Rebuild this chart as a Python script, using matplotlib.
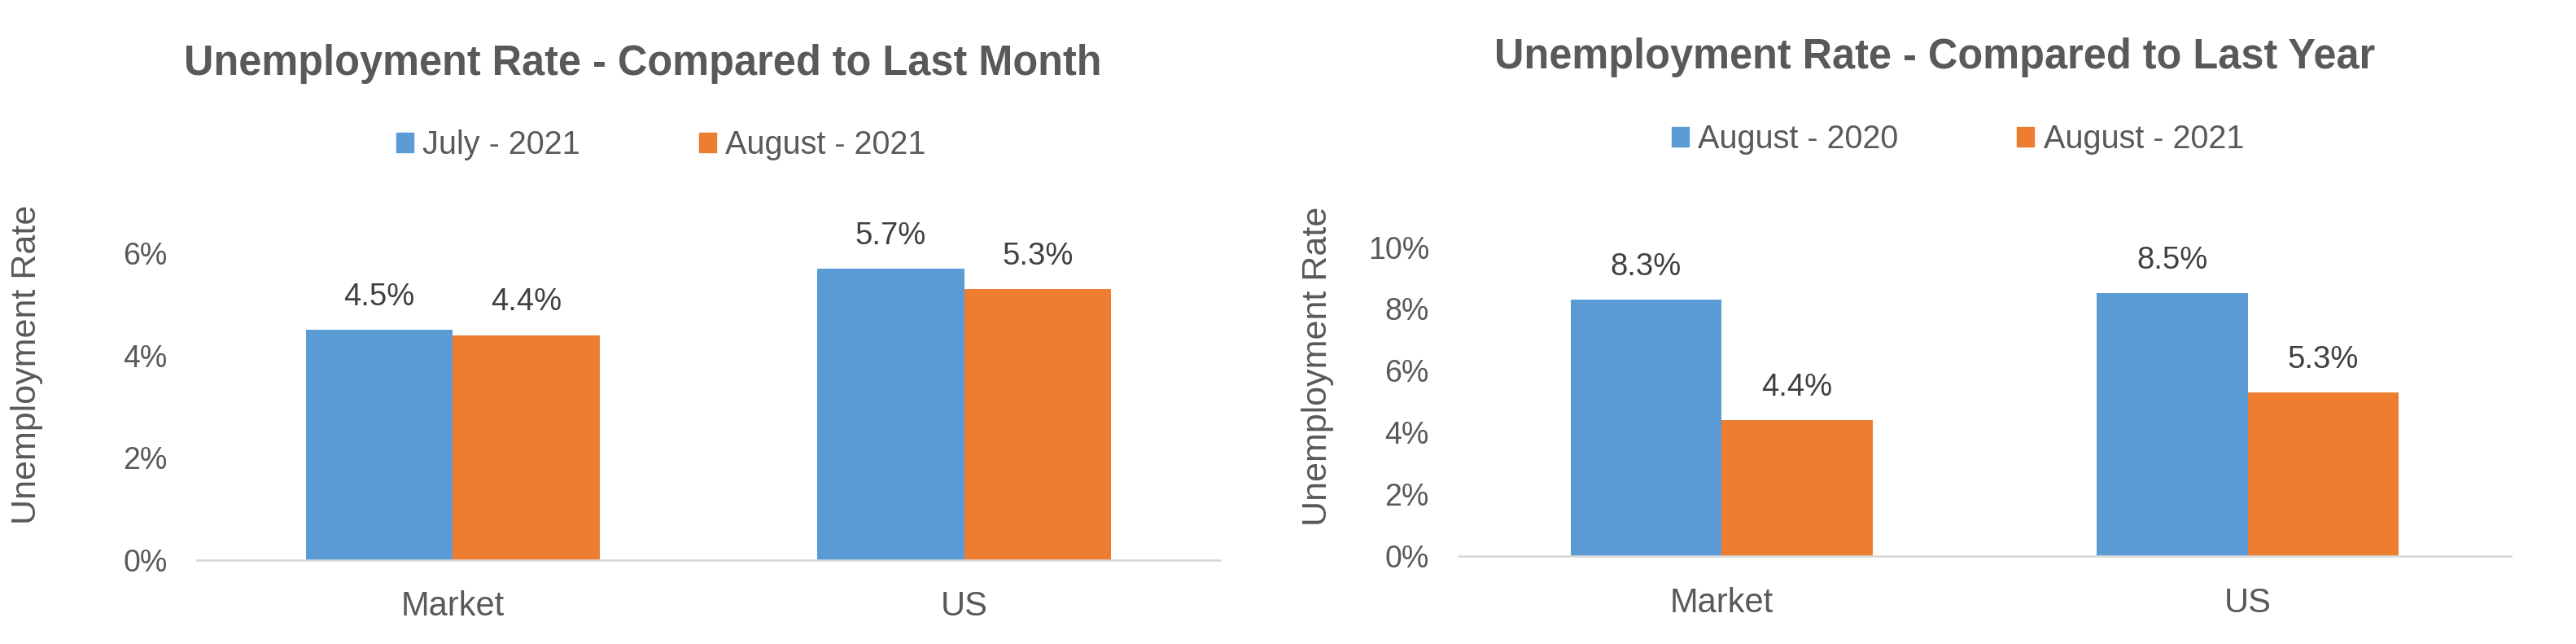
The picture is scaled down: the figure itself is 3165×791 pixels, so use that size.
import matplotlib
matplotlib.use("Agg")
import matplotlib.pyplot as plt
from matplotlib.patches import Rectangle
from matplotlib.ticker import FuncFormatter, MultipleLocator

plt.rcParams['font.family'] = ['Liberation Sans', 'DejaVu Sans']

categories = ["Market", "US"]

month_title = "Unemployment Rate - Compared to Last Month"
month_series = ["July - 2021", "August - 2021"]
month_prev = [4.5, 5.7]
month_curr = [4.4, 5.3]

year_title = "Unemployment Rate - Compared to Last Year"
year_series = ["August - 2020", "August - 2021"]
year_prev = [8.3, 8.5]
year_curr = [4.4, 5.3]

ylabel = "Unemployment Rate"
BLUE = "#5B9BD5"
ORANGE = "#ED7D31"
TEXT = "#595959"
LABEL = "#404040"
AXIS = "#D9D9D9"

W, H = 3165, 791
fig = plt.figure(figsize=(W / 100, H / 100), dpi=100)


def px_axes(x0, x1, y_bottom, y_top):
    return fig.add_axes([x0 / W, 1 - y_bottom / H, (x1 - x0) / W, (y_bottom - y_top) / H])


def draw(ax, title, series, prev, curr, ymax, title_x, ylab_x, ylab_y, leg_x, leg_y):
    bw = 0.287
    xs = list(range(len(categories)))
    b1 = ax.bar([x - bw / 2 for x in xs], prev, width=bw, color=BLUE, label=series[0])
    b2 = ax.bar([x + bw / 2 for x in xs], curr, width=bw, color=ORANGE, label=series[1])
    for b, vals in ((b1, prev), (b2, curr)):
        ax.bar_label(b, labels=[f"{v:.1f}%" for v in vals], padding=16,
                     fontsize=27.5, color=LABEL)
    ax.set_xlim(-0.5, len(categories) - 0.5)
    ax.set_ylim(0, ymax)
    ax.yaxis.set_major_locator(MultipleLocator(2))
    ax.yaxis.set_major_formatter(FuncFormatter(lambda v, p: f"{v:.0f}%"))
    ax.set_xticks(xs)
    ax.set_xticklabels(categories)
    ax.tick_params(axis='y', length=0, pad=26, labelsize=27, labelcolor=TEXT)
    ax.tick_params(axis='x', length=0, pad=27, labelsize=30, labelcolor=TEXT)
    for s in ("top", "right", "left"):
        ax.spines[s].set_visible(False)
    ax.spines["bottom"].set_color(AXIS)
    ax.spines["bottom"].set_linewidth(1.9)
    ax.set_ylabel(ylabel, fontsize=31, color=TEXT)
    ax.yaxis.label.set_va('center')
    ax.yaxis.set_label_coords(ylab_x, ylab_y)
    ax.set_title(title, fontsize=36.4, fontweight='bold', color=TEXT, pad=157.7, x=title_x)
    handles = [Rectangle((0, 0), 1, 1, color=BLUE), Rectangle((0, 0), 1, 1, color=ORANGE)]
    leg = ax.legend(handles, series, loc='center', bbox_to_anchor=(leg_x, leg_y), ncol=2,
                    frameon=False, fontsize=28.5, handlelength=0.53, handleheight=0.56,
                    handletextpad=0.28, columnspacing=3.69, borderpad=0, borderaxespad=0)
    for t in leg.get_texts():
        t.set_color(TEXT)


ax1 = px_axes(242, 1499, 688, 311)
draw(ax1, month_title, month_series, month_prev, month_curr, 6,
     title_x=0.436, ylab_x=-0.1663, ylab_y=0.637, leg_x=0.4535, leg_y=1.352)

ax2 = px_axes(1792, 3085, 683, 303.5)
draw(ax2, year_title, year_series, year_prev, year_curr, 10,
     title_x=0.4524, ylab_x=-0.1338, ylab_y=0.614, leg_x=0.4745, leg_y=1.35)

fig.savefig("out.png", dpi=100, facecolor="white")
